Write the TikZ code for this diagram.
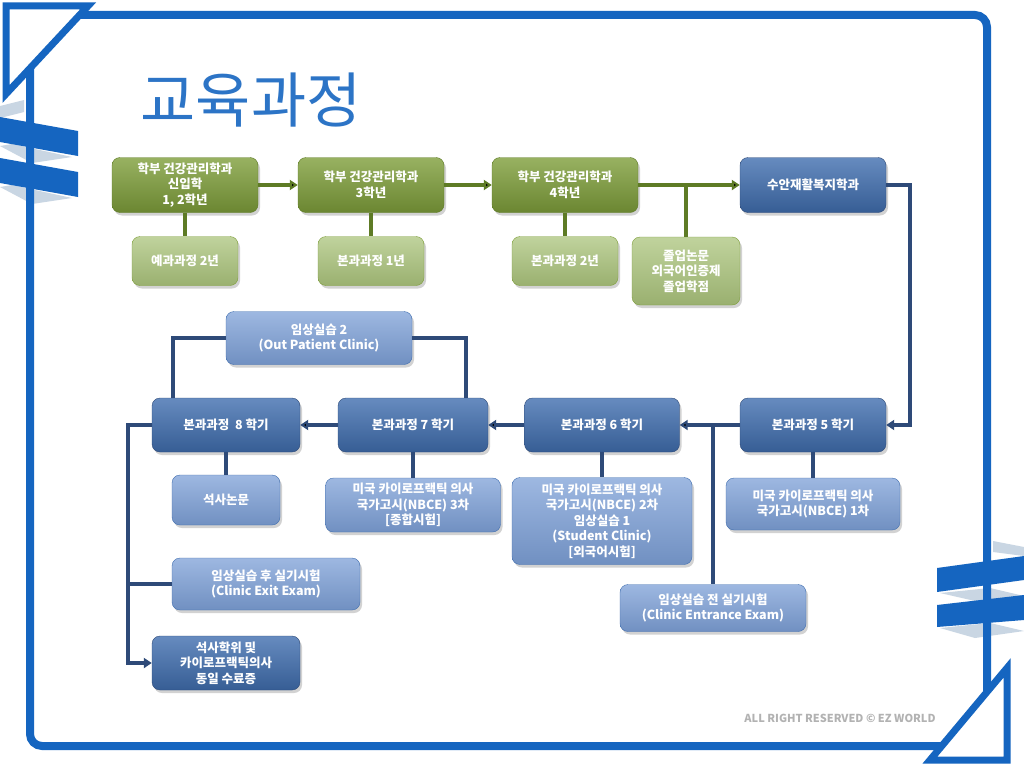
\documentclass[tikz,border=0pt]{standalone}
\usepackage{fontspec}
\setmainfont{Noto Sans CJK KR}
\usepackage{tikz}
\usetikzlibrary{arrows.meta,positioning,shadows}

\definecolor{frameblue}{HTML}{1565C0}
\definecolor{ribbongray}{HTML}{C9D6E3}
\definecolor{grMain}{HTML}{7E9E3A}
\definecolor{grLight}{HTML}{ABC47C}
\definecolor{grLine}{HTML}{5E7B25}
\definecolor{blMain}{HTML}{406EAF}
\definecolor{blLight}{HTML}{7DA0D7}
\definecolor{blLine}{HTML}{2E4A78}

\tikzset{
  box/.style={rectangle, rounded corners=8pt, align=center, text=white,
              font=\bfseries\fontsize{12.5}{15.5}\selectfont, inner sep=2pt,
              drop shadow={opacity=0.35, shadow xshift=2pt, shadow yshift=-3pt}},
  mainG/.style={box, draw=grLine, top color=grMain!80!white, bottom color=grMain!85!black},
  subG/.style={box, draw=grMain, top color=grLight!75!white, bottom color=grLight!90!black},
  mainB/.style={box, draw=blLine, top color=blMain!80!white, bottom color=blMain!85!black},
  subB/.style={box, draw=blMain, top color=blLight!75!white, bottom color=blLight!90!black},
  greenline/.style={draw=grLine, line width=3.5pt},
  blueline/.style={draw=blLine, line width=3.5pt},
  >={Triangle[length=8pt,width=10pt]}
}

\begin{document}
\begin{tikzpicture}[x=1pt, y=-1pt]
  \useasboundingbox (0,0) rectangle (1024,768);
  \fill[white] (0,0) rectangle (1024,768);

  % ribbons, back parts
  \fill[ribbongray] (0,106) -- (24,100) -- (24,112) -- (0,118) -- cycle;
  \fill[ribbongray] (0,146) -- (12,144) -- (72,157) -- (32,163) -- cycle;
  \fill[ribbongray] (0,187) -- (12,185) -- (72,198) -- (32,204) -- cycle;
  \fill[ribbongray] (993,541) -- (1024,547) -- (1024,556) -- (993,552) -- cycle;
  \fill[ribbongray] (940,593) -- (990,588) -- (1024,596) -- (975,601) -- cycle;
  \fill[ribbongray] (940,628) -- (990,623) -- (1024,631) -- (975,638) -- cycle;

  % frame
  \draw[frameblue, line width=8pt, rounded corners=12pt] (30,15) rectangle (987,746);
  \filldraw[fill=white, draw=frameblue, line width=7pt, line join=miter]
    (6,6) -- (88,6) -- (6,94) -- cycle;
  \filldraw[fill=white, draw=frameblue, line width=7pt, line join=miter]
    (1007,668) -- (1007,760) -- (930,760) -- cycle;

  % ribbons, front bands
  \fill[frameblue] (0,117) -- (78,131) -- (78,156) -- (0,142) -- cycle;
  \fill[frameblue] (0,158) -- (78,172) -- (78,197) -- (0,183) -- cycle;
  \fill[frameblue] (937,568) -- (1024,556) -- (1024,580) -- (937,592) -- cycle;
  \fill[frameblue] (937,605) -- (1024,595) -- (1024,620) -- (937,627) -- cycle;

  % title
  \node[text=frameblue!90!white, font=\fontsize{60}{64}\selectfont] (title) at (251,100) {교육과정};

  % green row
  \node[mainG, minimum width=146pt, minimum height=55pt] at (185,185) (g1) {학부 건강관리학과\\신입학\\1, 2학년};
  \node[mainG, minimum width=146pt, minimum height=55pt] at (371,185) (g2) {학부 건강관리학과\\3학년};
  \node[mainG, minimum width=146pt, minimum height=55pt] at (565,185) (g3) {학부 건강관리학과\\4학년};
  \node[mainB, minimum width=146pt, minimum height=55pt] at (813,185) (rehab) {수안재활복지학과};

  \node[subG, minimum width=106pt, minimum height=49pt] at (185,261) (s1) {예과과정 2년};
  \node[subG, minimum width=106pt, minimum height=49pt] at (371,261) (s2) {본과과정 1년};
  \node[subG, minimum width=106pt, minimum height=49pt] at (565,261) (s3) {본과과정 2년};
  \node[subG, minimum width=108pt, minimum height=68pt] at (686,271) (s4) {졸업논문\\외국어인증제\\졸업학점};

  % blue row
  \node[mainB, minimum width=146pt, minimum height=54pt] at (813,425) (b5) {본과과정 5 학기};
  \node[mainB, minimum width=155pt, minimum height=54pt] at (602,425) (b6) {본과과정 6 학기};
  \node[mainB, minimum width=150pt, minimum height=54pt] at (413,425) (b7) {본과과정 7 학기};
  \node[mainB, minimum width=148pt, minimum height=54pt] at (226,425) (b8) {본과과정 \ 8 학기};
  \node[subB, minimum width=186pt, minimum height=53pt] at (319,338) (out) {임상실습 2\\(Out Patient Clinic)};

  \node[subB, minimum width=174pt, minimum height=52pt] at (813,504) (n5) {미국 카이로프랙틱 의사\\국가고시(NBCE) 1차};
  \node[subB, minimum width=180pt, minimum height=87pt] at (602,521) (n6) {미국 카이로프랙틱 의사\\국가고시(NBCE) 2차\\임상실습 1\\(Student Clinic)\\{[}외국어시험{]}};
  \node[subB, minimum width=175pt, minimum height=54pt] at (413,505) (n7) {미국 카이로프랙틱 의사\\국가고시(NBCE) 3차\\{[}종합시험{]}};
  \node[subB, minimum width=108pt, minimum height=50pt] at (226,500) (n8) {석사논문};
  \node[subB, minimum width=186pt, minimum height=47pt] at (713,608) (entr) {임상실습 전 실기시험\\(Clinic Entrance Exam)};
  \node[subB, minimum width=188pt, minimum height=52pt] at (266,584) (exit) {임상실습 후 실기시험\\(Clinic Exit Exam)};
  \node[mainB, minimum width=148pt, minimum height=54pt] at (226,663) (fin) {석사학위 및\\카이로프랙틱의사\\동일 수료증};

  \node[text=black!30, font=\bfseries\fontsize{11}{12}\selectfont] at (840,718) (mark) {ALL RIGHT RESERVED © EZ WORLD};

  % green connectors
  \coordinate (j1) at (s4.north |- g3.east);
  \path[greenline] (g1) edge[->] (g2)
                   (g2) edge[->] (g3)
                   (g3) edge[->] (rehab)
                   (g1) edge (s1)
                   (g2) edge (s2)
                   (g3) edge (s3)
                   (j1) edge (s4.north);

  % blue connectors
  \coordinate (j2) at (entr.north |- b5.west);
  \coordinate (t) at (128,425);
  \draw[blueline, ->] (rehab.east) -- ++(24,0) |- (b5.east);
  \path[blueline] (b5) edge[->] (b6)
                  (b6) edge[->] (b7)
                  (b7) edge[->] (b8)
                  (b5) edge (n5)
                  (b6) edge (n6)
                  (b7) edge (n7)
                  (b8) edge (n8)
                  (j2) edge (entr.north);
  \draw[blueline] (out.west) -| ([xshift=-53pt]b8.north);
  \draw[blueline] (out.east) -| ([xshift=53pt]b7.north);
  \draw[blueline, ->] (b8.west) -- (t) |- (fin.west);
  \draw[blueline] (t |- exit.west) -- (exit.west);

\end{tikzpicture}
\end{document}
